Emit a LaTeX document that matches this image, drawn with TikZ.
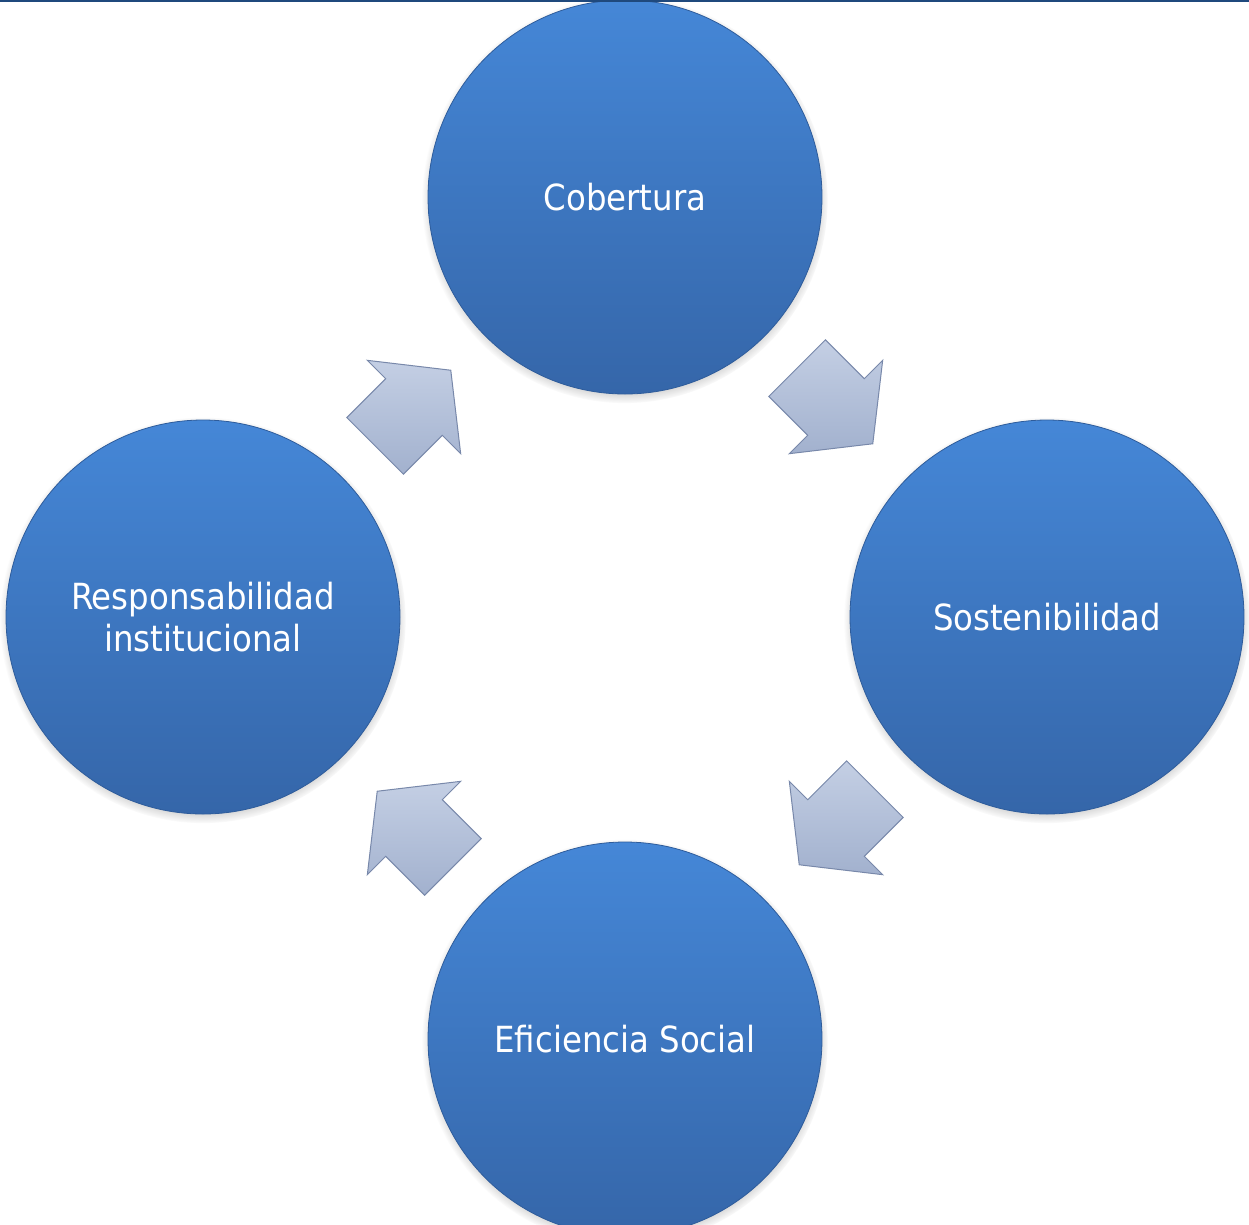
\documentclass[tikz,border=0pt]{standalone}
\usepackage{fontspec}
\setmainfont{DejaVu Sans Condensed}
\usetikzlibrary{calc,shadows}

\definecolor{circtop}{HTML}{4587D7}
\definecolor{circbot}{HTML}{3566A9}
\definecolor{circedge}{HTML}{2E5C9B}
\definecolor{arrtop}{HTML}{C4CFE4}
\definecolor{arrbot}{HTML}{A2B1CE}
\definecolor{arredge}{HTML}{7888AA}
\definecolor{topline}{HTML}{1F497D}

\tikzset{
  bubble/.style={circle, minimum size=394pt, inner sep=0pt, top color=circtop, bottom color=circbot,
    draw=circedge, line width=0.8pt, text=white, align=center,
    font=\fontsize{36}{42}\selectfont,
    circular drop shadow={shadow xshift=0pt, shadow yshift=-3pt, shadow scale=1.03, fill=black!45}},
  cyclearrow/.style={top color=arrtop, bottom color=arrbot, draw=arredge, line width=1pt, line join=miter}
}

\begin{document}
\begin{tikzpicture}[x=1pt,y=-1pt]
  \useasboundingbox (0,0) rectangle (1249,1224);
  \fill[white] (0,0) rectangle (1249,1224);

  % Circles
  \node[bubble] (cob) at (625,197) {Cobertura};
  \node[bubble] (sost) at (1047,617) {Sostenibilidad};
  \node[bubble] (efic) at (625,1039) {Eficiencia Social};
  \node[bubble] (resp) at (203,617) {Responsabilidad\\institucional};

  % Arrows
  \foreach \a/\b/\ang in {cob/sost/-45, sost/efic/-135, efic/resp/135, resp/cob/45}
    \shade[cyclearrow, shift={($(\a)!0.5!(\b)$)}, rotate=\ang]
      (-55,-40) -- (0,-40) -- (0,-66) -- (52,0) -- (0,66) -- (0,40) -- (-55,40) -- cycle;

  % Top rule
  \fill[topline] (0,0) rectangle (1249,2);
\end{tikzpicture}
\end{document}
